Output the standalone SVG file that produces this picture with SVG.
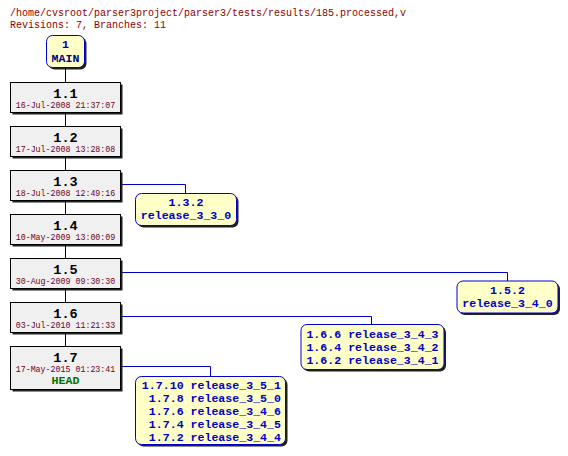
<svg xmlns="http://www.w3.org/2000/svg" width="568" height="456" viewBox="0 0 568 456">
<style>
.hdr{font-family:"Liberation Mono",monospace;font-size:10px;fill:#8b0000}
.rev rect.b{fill:#f0f0f0;stroke:#000;stroke-width:1}
.sh{fill:#202020}
.num{font-family:"Liberation Mono",monospace;font-size:13.5px;font-weight:bold;fill:#000;text-anchor:middle}
.date{font-family:"Liberation Mono",monospace;font-size:8.3px;fill:#700020;text-anchor:middle}
.br rect.b{fill:#ffffc8;stroke:#0000cc;stroke-width:1}
.bt{font-family:"Liberation Mono",monospace;font-size:11.6px;font-weight:bold;fill:#0000c8}
.mid{text-anchor:middle}
.end{text-anchor:end}
.trunk{stroke:#000;stroke-width:1;fill:none}
.bl{stroke:#0000cc;stroke-width:1;fill:none}
</style>
<text class="hdr" x="10" y="16">/home/cvsroot/parser3project/parser3/tests/results/185.processed,v</text>
<text class="hdr" x="10" y="28">Revisions: 7, Branches: 11</text>
<g id="connectors">
<path class="trunk" d="M65.5 68V346"/>
<path class="bl" d="M121 184.5H185.5V193"/>
<path class="bl" d="M121 272.5H507.5V281"/>
<path class="bl" d="M121 316.5H371.5V324"/>
<path class="bl" d="M121 366.5H210.5V376"/>
</g>
<g id="main" class="br">
<rect class="sh" x="48.5" y="37.5" width="38" height="32" rx="6"/>
<rect class="b" x="46.5" y="35.5" width="38" height="32" rx="6"/>
<text class="bt mid" x="65.5" y="48" style="fill:#0000c8">1</text>
<text class="bt mid" x="65.5" y="62" style="fill:#000080">MAIN</text>
</g>
<g id="r1_1" class="rev">
<rect class="sh" x="12.5" y="84.5" width="110" height="30"/>
<rect class="b" x="10.5" y="82.5" width="110" height="30"/>
<text class="num" x="65.5" y="97.5">1.1</text>
<text class="date" x="65.5" y="107.5">16-Jul-2008 21:37:07</text>
</g>
<g id="r1_2" class="rev">
<rect class="sh" x="12.5" y="128.5" width="110" height="30"/>
<rect class="b" x="10.5" y="126.5" width="110" height="30"/>
<text class="num" x="65.5" y="141.5">1.2</text>
<text class="date" x="65.5" y="151.5">17-Jul-2008 13:28:08</text>
</g>
<g id="r1_3" class="rev">
<rect class="sh" x="12.5" y="172.5" width="110" height="30"/>
<rect class="b" x="10.5" y="170.5" width="110" height="30"/>
<text class="num" x="65.5" y="185.5">1.3</text>
<text class="date" x="65.5" y="195.5">18-Jul-2008 12:49:16</text>
</g>
<g id="r1_4" class="rev">
<rect class="sh" x="12.5" y="216.5" width="110" height="30"/>
<rect class="b" x="10.5" y="214.5" width="110" height="30"/>
<text class="num" x="65.5" y="229.5">1.4</text>
<text class="date" x="65.5" y="239.5">10-May-2009 13:00:09</text>
</g>
<g id="r1_5" class="rev">
<rect class="sh" x="12.5" y="260.5" width="110" height="30"/>
<rect class="b" x="10.5" y="258.5" width="110" height="30"/>
<text class="num" x="65.5" y="273.5">1.5</text>
<text class="date" x="65.5" y="283.5">30-Aug-2009 09:30:30</text>
</g>
<g id="r1_6" class="rev">
<rect class="sh" x="12.5" y="304.5" width="110" height="30"/>
<rect class="b" x="10.5" y="302.5" width="110" height="30"/>
<text class="num" x="65.5" y="317.5">1.6</text>
<text class="date" x="65.5" y="327.5">03-Jul-2010 11:21:33</text>
</g>
<g id="r1_7" class="rev">
<rect class="sh" x="12.5" y="348.5" width="110" height="43"/>
<rect class="b" x="10.5" y="346.5" width="110" height="43"/>
<text class="num" x="65.5" y="361.5">1.7</text>
<text class="date" x="65.5" y="371.5">17-May-2015 01:23:41</text>
<text class="bt mid" x="65.5" y="384" style="fill:#007000">HEAD</text>
</g>
<g id="b1_3_2" class="br">
<rect class="sh" x="137.5" y="195.5" width="101" height="32" rx="6"/>
<rect class="b" x="135.5" y="193.5" width="101" height="32" rx="6"/>
<text class="bt mid" x="186" y="206">1.3.2</text>
<text class="bt mid" x="186" y="219">release_3_3_0</text>
</g>
<g id="b1_5_2" class="br">
<rect class="sh" x="459" y="283" width="101" height="32" rx="6"/>
<rect class="b" x="457" y="281" width="101" height="32" rx="6"/>
<text class="bt mid" x="507.5" y="294">1.5.2</text>
<text class="bt mid" x="507.5" y="307">release_3_4_0</text>
</g>
<g id="b1_6" class="br">
<rect class="sh" x="303" y="326.5" width="143" height="45" rx="6"/>
<rect class="b" x="301" y="324.5" width="143" height="45" rx="6"/>
<text class="bt mid" x="372.5" y="338">1.6.6 release_3_4_3</text>
<text class="bt mid" x="372.5" y="351">1.6.4 release_3_4_2</text>
<text class="bt mid" x="372.5" y="364">1.6.2 release_3_4_1</text>
</g>
<g id="b1_7" class="br">
<rect class="sh" x="137.5" y="378.5" width="150" height="68" rx="6"/>
<rect class="b" x="135.5" y="376.5" width="150" height="68" rx="6"/>
<text class="bt end" x="281" y="389">1.7.10 release_3_5_1</text>
<text class="bt end" x="281" y="402">1.7.8 release_3_5_0</text>
<text class="bt end" x="281" y="415">1.7.6 release_3_4_6</text>
<text class="bt end" x="281" y="428">1.7.4 release_3_4_5</text>
<text class="bt end" x="281" y="441">1.7.2 release_3_4_4</text>
</g>
</svg>
